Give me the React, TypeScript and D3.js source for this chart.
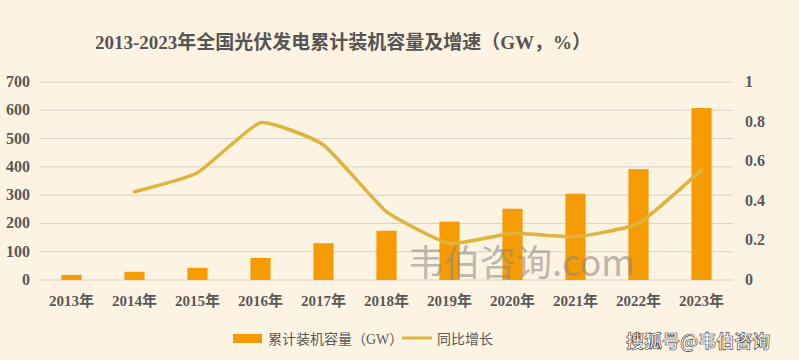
import React from "react";
import * as d3 from "d3";

const years = ["2013年","2014年","2015年","2016年","2017年","2018年","2019年","2020年","2021年","2022年","2023年"];
const capacity = [18, 29, 43, 78, 130, 174, 206, 252, 305, 392, 608];
const growth: (number | null)[] = [null, 0.446, 0.542, 0.795, 0.682, 0.345, 0.185, 0.236, 0.219, 0.286, 0.556];
const leftTicks = [0, 100, 200, 300, 400, 500, 600, 700];
const rightTicks = [0, 0.2, 0.4, 0.6, 0.8, 1];

const W = 799, H = 360;
const m = { left: 40, right: 66, top: 82, bottom: 80 };
const FONT = "'Liberation Serif', 'Noto Sans CJK SC', serif";

export default function App() {
  const x = d3.scaleBand().domain(years).range([m.left, W - m.right]).paddingInner(0.68).paddingOuter(0.34);
  const yL = d3.scaleLinear().domain([0, 700]).range([H - m.bottom, m.top]);
  const yR = d3.scaleLinear().domain([0, 1]).range([H - m.bottom, m.top]);
  const pts = years.map((y, i) => ({ y, v: growth[i] })).filter(d => d.v != null) as { y: string; v: number }[];
  const line = d3.line<{ y: string; v: number }>()
    .x(d => (x(d.y) as number) + x.bandwidth() / 2)
    .y(d => yR(d.v))
    .curve(d3.curveCardinal.tension(0.55));
  const barColor = "#F59C05";
  const lineColor = "#E0B43A";
  const text = "#595959";
  return (
    <svg width={W} height={H} style={{ position: "absolute", left: 0, top: 0, background: "#FDF3E3" }}>
      <rect x={0} y={0} width={W} height={H} fill="#FDF3E3" />
      <text x={343} y={49} textAnchor="middle" fontFamily={FONT} fontSize={19} fontWeight={600} fill="#555">
        2013-2023年全国光伏发电累计装机容量及增速（GW，%）
      </text>
      {leftTicks.map(t => (
        <g key={t}>
          <line x1={m.left} x2={W - m.right} y1={yL(t)} y2={yL(t)} stroke="#D9D3CB" strokeWidth={1} />
          <text x={30} y={yL(t) + 5} textAnchor="end" fontFamily={FONT} fontSize={16} fontWeight="bold" fill={text}>{t}</text>
        </g>
      ))}
      {rightTicks.map(t => (
        <text key={t} x={745} y={yR(t) + 5} fontFamily={FONT} fontSize={16} fontWeight="bold" fill={text}>{t === 0 || t === 1 ? String(t) : t.toFixed(1)}</text>
      ))}
      {years.map((yr, i) => (
        <rect key={yr} x={x(yr)} y={yL(capacity[i])} width={x.bandwidth()} height={yL(0) - yL(capacity[i])} fill={barColor} />
      ))}
      <path d={line(pts) || ""} fill="none" stroke={lineColor} strokeWidth={3.5} strokeLinecap="round" strokeLinejoin="round" />
      {years.map(yr => (
        <text key={yr} x={(x(yr) as number) + x.bandwidth() / 2} y={306} textAnchor="middle" fontFamily={FONT} fontSize={15} fontWeight={600} fill={text}>{yr}</text>
      ))}
      <text x={408} y={276} fontFamily="'Noto Sans CJK SC', sans-serif" fontSize={36} fill="#8a8580" opacity={0.55}>韦伯咨询.com</text>
      <rect x={233} y={334} width={29} height={9} fill={barColor} />
      <text x={268} y={344} fontFamily={FONT} fontSize={14} fill={text}>累计装机容量（GW）</text>
      <line x1={402} x2={432} y1={338} y2={338} stroke={lineColor} strokeWidth={3} />
      <text x={437} y={344} fontFamily={FONT} fontSize={14} fill={text}>同比增长</text>
      <text x={626} y={348} fontFamily="'Noto Sans CJK SC', sans-serif" fontSize={18} fontWeight="bold" fill="#fff" stroke="#333" strokeWidth={0.6}>搜狐号@韦伯咨询</text>
    </svg>
  );
}
